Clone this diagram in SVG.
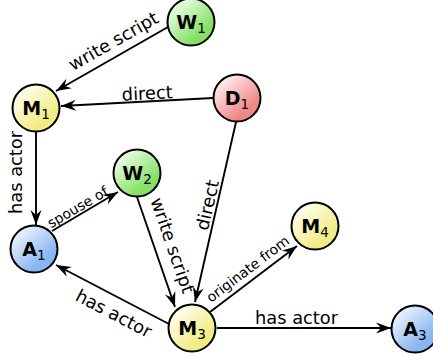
<svg xmlns="http://www.w3.org/2000/svg" width="433" height="358" viewBox="0 0 433 358">
<defs>
<linearGradient id="gG" x1="0.15" y1="0.1" x2="0.85" y2="0.9"><stop offset="0" stop-color="#f0ffec"/><stop offset="0.8" stop-color="#86e066"/></linearGradient>
<linearGradient id="gY" x1="0.15" y1="0.1" x2="0.85" y2="0.9"><stop offset="0" stop-color="#fffff2"/><stop offset="0.8" stop-color="#f2ec86"/></linearGradient>
<linearGradient id="gR" x1="0.15" y1="0.1" x2="0.85" y2="0.9"><stop offset="0" stop-color="#fff2f2"/><stop offset="0.8" stop-color="#f08888"/></linearGradient>
<linearGradient id="gB" x1="0.15" y1="0.1" x2="0.85" y2="0.9"><stop offset="0" stop-color="#eef5ff"/><stop offset="0.8" stop-color="#88b6f0"/></linearGradient>
<marker id="arr" markerUnits="userSpaceOnUse" markerWidth="18" markerHeight="14" viewBox="0 -7 16 14" refX="15" refY="0" orient="auto">
<path d="M15,0 L0,-5.5 L5,0 L0,5.5 Z" fill="#000"/>
</marker>
</defs>
<style>
.node circle{stroke:#000;stroke-width:2}
.node text{font-family:"DejaVu Sans",sans-serif;font-weight:bold;font-size:19px;fill:#000;text-anchor:middle}
.node tspan.s{font-weight:normal;font-size:13.5px}
#edges line{stroke:#000;stroke-width:1.9;marker-end:url(#arr)}
.lbl{font-family:"DejaVu Sans",sans-serif;font-size:17.8px;fill:#000;text-anchor:middle}
.sm{font-size:14px}
</style>
<g id="edges">
<line x1="168" y1="27" x2="56" y2="91"/>
<line x1="213" y1="98" x2="61" y2="106"/>
<line x1="36" y1="132" x2="36" y2="225"/>
<line x1="52" y1="231" x2="118" y2="192"/>
<line x1="137" y1="197" x2="175" y2="307"/>
<line x1="236" y1="122" x2="195" y2="302"/>
<line x1="169" y1="324" x2="56" y2="265"/>
<line x1="210" y1="312" x2="297" y2="246"/>
<line x1="217" y1="328" x2="391" y2="328"/>
<text class="lbl" transform="translate(116.5,46.5) rotate(-29.7)">write script</text>
<text class="lbl" transform="translate(147.5,99.5) rotate(-3)">direct</text>
<text class="lbl" transform="translate(21.7,172.5) rotate(-90)">has actor</text>
<text class="lbl sm" transform="translate(80.1,211.4) rotate(-30.3)">spouse of</text>
<text class="lbl" transform="translate(166.6,247.5) rotate(70.9)">write script</text>
<text class="lbl" transform="translate(213.5,206.5) rotate(-77.2)">direct</text>
<text class="lbl" transform="translate(110.9,318.9) rotate(27.6)">has actor</text>
<text class="lbl sm" transform="translate(250.7,272.9) rotate(-37.2)">originate from</text>
<text class="lbl" transform="translate(296.5,323.5)">has actor</text>
</g>
<g id="W1" class="node"><circle cx="191" cy="22" r="23.5" fill="url(#gG)"/><text x="191" y="29">W<tspan class="s" dy="4">1</tspan></text></g>
<g id="M1" class="node"><circle cx="36" cy="108" r="23.5" fill="url(#gY)"/><text x="36" y="115">M<tspan class="s" dy="4">1</tspan></text></g>
<g id="D1" class="node"><circle cx="237" cy="98" r="23.5" fill="url(#gR)"/><text x="237" y="105">D<tspan class="s" dy="4">1</tspan></text></g>
<g id="W2" class="node"><circle cx="137" cy="173" r="23.5" fill="url(#gG)"/><text x="137" y="180">W<tspan class="s" dy="4">2</tspan></text></g>
<g id="A1" class="node"><circle cx="34" cy="249" r="23.5" fill="url(#gB)"/><text x="34" y="256">A<tspan class="s" dy="4">1</tspan></text></g>
<g id="M3" class="node"><circle cx="192" cy="328" r="23.5" fill="url(#gY)"/><text x="192" y="335">M<tspan class="s" dy="4">3</tspan></text></g>
<g id="M4" class="node"><circle cx="315" cy="226" r="23.5" fill="url(#gY)"/><text x="315" y="233">M<tspan class="s" dy="4">4</tspan></text></g>
<g id="A3" class="node"><circle cx="415" cy="329" r="23.5" fill="url(#gB)"/><text x="415" y="336">A<tspan class="s" dy="4">3</tspan></text></g>
</svg>
